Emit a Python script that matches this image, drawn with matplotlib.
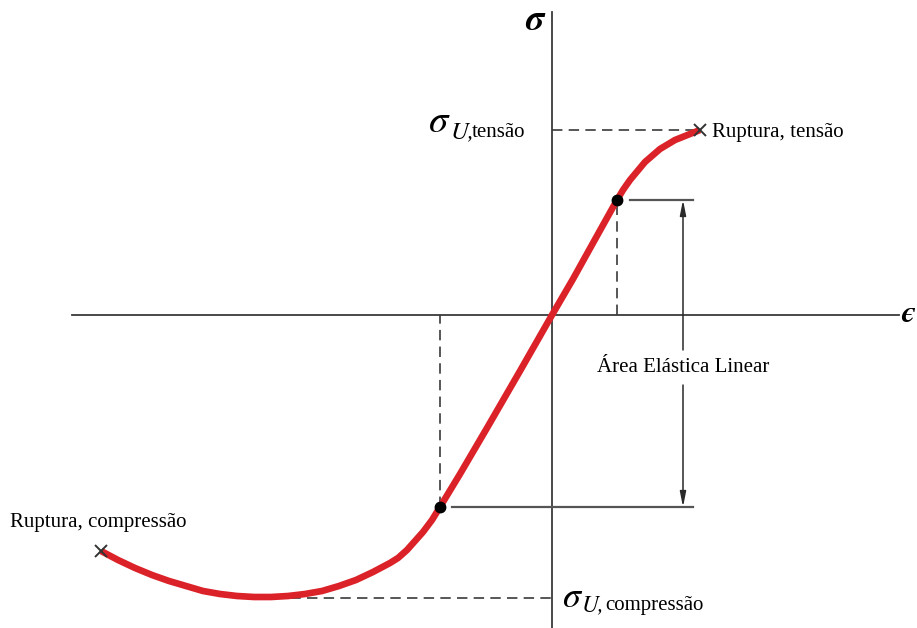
import matplotlib
matplotlib.use("Agg")
import matplotlib.pyplot as plt

plt.rcParams['lines.scale_dashes'] = False

# stress-strain curve (arbitrary units), compression on the left
strain = [-4.51, -4.34, -4.17, -4.00, -3.83, -3.66, -3.49, -3.32, -3.15, -2.98,
          -2.81, -2.64, -2.47, -2.30, -2.13, -1.96, -1.79, -1.62, -1.54, -1.45,
          -1.37, -1.29, -1.20, -1.12, -0.92, -0.65, -0.32, 0.00, 0.21, 0.41,
          0.65, 0.71, 0.78, 0.93, 1.08, 1.23, 1.38, 1.48]
stress = [-2.36, -2.45, -2.53, -2.60, -2.66, -2.71, -2.76, -2.79, -2.81, -2.82,
          -2.82, -2.81, -2.79, -2.76, -2.71, -2.65, -2.57, -2.48, -2.43, -2.35,
          -2.26, -2.17, -2.05, -1.92, -1.59, -1.13, -0.56, 0.00, 0.36, 0.72,
          1.15, 1.25, 1.35, 1.53, 1.66, 1.75, 1.81, 1.85]

# ultimate stresses
sig_u_tension = 1.85
eps_u_tension = 1.48
sig_u_comp = -2.83
eps_u_comp = -2.95

# limits of the linear elastic region
eps_el_t, sig_el_t = 0.65, 1.15
eps_el_c, sig_el_c = -1.12, -1.92

# rupture points
rupture_eps = [strain[0], strain[-1]]
rupture_sig = [stress[0], stress[-1]]

fig = plt.figure(figsize=(9.17, 6.28), dpi=100)
ax = fig.add_axes([0, 0, 1, 1])
ax.set_xlim(-5.52, 3.65)
ax.set_ylim(-3.13, 3.15)
ax.axis('off')

axis_col = '#3a3a3a'
dash = (0, (7.5, 4.5))

# axes
ax.plot([-4.80, 3.47], [0, 0], color=axis_col, lw=1.3)
ax.plot([0, 0], [-3.2, 3.03], color=axis_col, lw=1.3)

# dashed guides
ax.plot([0, eps_u_tension], [sig_u_tension, sig_u_tension], color=axis_col, lw=1.2, linestyle=dash)
ax.plot([eps_u_comp, 0], [sig_u_comp, sig_u_comp], color=axis_col, lw=1.2, linestyle=dash)
ax.plot([eps_el_t, eps_el_t], [0, sig_el_t], color=axis_col, lw=1.2, linestyle=dash)
ax.plot([eps_el_c, eps_el_c], [sig_el_c, 0], color=axis_col, lw=1.2, linestyle=dash)

# elastic range brackets
x_arrow = 1.31
ax.plot([eps_el_t + 0.13, 1.41], [sig_el_t, sig_el_t], color='#555555', lw=1.6)
ax.plot([eps_el_c + 0.12, 1.41], [sig_el_c, sig_el_c], color='#555555', lw=1.6)
arrow_kw = dict(arrowstyle='-|>,head_length=0.9,head_width=0.18', color='#2a2a2a', lw=1.1,
                shrinkA=0, shrinkB=0)
ax.annotate('', xy=(x_arrow, sig_el_t), xytext=(x_arrow, -0.35), arrowprops=arrow_kw)
ax.annotate('', xy=(x_arrow, sig_el_c), xytext=(x_arrow, -0.70), arrowprops=arrow_kw)
ax.text(x_arrow, -0.53, 'Área Elástica Linear', family='Liberation Serif', fontsize=15,
        ha='center', va='center')

# curve
ax.plot(strain, stress, color='#dc2229', lw=4.8, solid_joinstyle='round',
        solid_capstyle='butt', zorder=3)
ax.plot([eps_el_t, eps_el_c], [sig_el_t, sig_el_c], 'o', color='black', ms=7.5, zorder=4)
ax.plot(rupture_eps, rupture_sig, 'x', color='#333333', ms=9, mew=1.4, zorder=4)

serif = 'Liberation Serif'
greek = 'STIXGeneral'
ax.text(1.60, 1.78, 'Ruptura, tensão', family=serif, fontsize=15, va='baseline')
ax.text(-5.42, -2.12, 'Ruptura, compressão', family=serif, fontsize=15, va='baseline')

# ultimate stress labels
ax.text(-1.23, 1.83, 'σ', family=greek, style='italic', fontsize=28, va='baseline')
ax.text(-1.02, 1.77, 'U,', family=greek, style='italic', fontsize=18, va='baseline')
ax.text(-0.80, 1.78, 'tensão', family=serif, fontsize=15, va='baseline')
ax.text(0.10, -2.92, 'σ', family=greek, style='italic', fontsize=26, va='baseline')
ax.text(0.30, -2.96, 'U,', family=greek, style='italic', fontsize=17, va='baseline')
ax.text(0.53, -2.95, 'compressão', family=serif, fontsize=15, va='baseline')

# axis names
ax.text(-0.27, 2.85, 'σ', family=greek, style='italic', weight='bold', fontsize=26, va='baseline')
ax.text(3.49, -0.07, 'ϵ', family=greek, style='italic', weight='bold', fontsize=22, va='baseline')

fig.savefig('out.png', dpi=100)
